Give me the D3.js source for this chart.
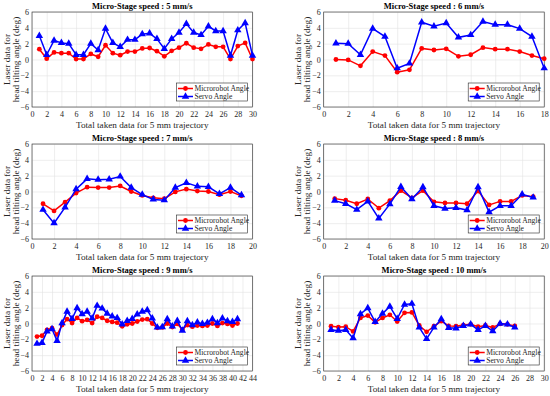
<!DOCTYPE html>
<html>
<head>
<meta charset="utf-8">
<script src="https://cdn.jsdelivr.net/npm/d3@7"></script>
<style>
  body { margin: 0; background: #fff; }
  svg { display: block; }
  svg text { font-family: "Liberation Serif", "Times New Roman", serif; }
  .grid line { stroke: #e3e3e3; stroke-width: 0.6; }
  .grid path { display: none; }
  .grid text { fill: #262626; font-size: 8px; }
</style>
</head>
<body>
<script>
"use strict";

const titles = ["Micro-Stage speed : 5 mm/s", "Micro-Stage speed : 6 mm/s",
    "Micro-Stage speed : 7 mm/s", "Micro-Stage speed : 8 mm/s",
    "Micro-Stage speed : 9 mm/s", "Micro-Stage speed : 10 mm/s"]
const xMaxes = [30, 18, 20, 20, 44, 30]
const yTicks = [-6, -4, -2, 0, 2, 4, 6]
const legendNames = ["Microrobot Angle", "Servo Angle"]

const micro5 = [1.3, 0.1, 0.9, 0.8, 0.8, 0.05, 0.05, 0.7, 0.35, 1.8, 0.8, 0.55, 1.0, 1.0, 1.4,
    1.45, 1.05, 0.4, 1.1, 1.5, 2.05, 1.5, 1.35, 1.9, 1.6, 1.6, 0.05, 1.7, 2.1, 0.05]
const servo5 = [3.0, 0.6, 2.4, 2.1, 2.0, 0.6, 0.6, 2.0, 1.2, 3.9, 2.1, 1.6, 2.5, 2.5, 3.2,
    3.3, 2.6, 1.35, 2.6, 3.4, 4.5, 3.4, 3.1, 4.2, 3.6, 3.6, 0.5, 3.7, 4.6, 0.5]

const micro6 = [0.0, -0.05, -0.8, 1.0, 0.5, -1.6, -1.3, 1.4, 1.2, 1.35, 0.4, 0.6, 1.5, 1.3,
    1.3, 1.0, 0.5, 0.1]
const servo6 = [2.05, 2.0, 0.6, 3.9, 2.9, -1.1, -0.5, 4.7, 4.2, 4.6, 2.8, 3.1, 4.8, 4.4,
    4.4, 3.9, 2.9, -1.1]

const micro7 = [-1.55, -2.45, -1.35, -0.2, 0.55, 0.5, 0.5, 0.7, 0.0, -0.5, -0.8, -0.9, -0.05,
    0.3, 0.05, 0.0, -0.4, 0.0, -0.55]
const servo7 = [-2.3, -4.0, -2.0, 0.3, 1.6, 1.5, 1.55, 1.9, 0.5, -0.4, -1.0, -1.1, 0.5,
    1.1, 0.65, 0.6, -0.3, 0.5, -0.45]

const micro8 = [-0.9, -1.1, -1.55, -0.95, -2.1, -1.15, 0.1, -0.8, 0.1, -1.3, -1.45, -1.45,
    -1.55, 0.05, -1.7, -1.25, -1.25, -0.5, -0.65]
const servo8 = [-1.15, -1.55, -2.3, -1.25, -3.4, -1.6, 0.6, -0.95, 0.55, -1.8, -2.15, -2.05,
    -2.35, 0.55, -2.6, -1.8, -1.8, -0.35, -0.75]

const micro9 = [-1.65, -1.55, -0.8, -0.6, -1.4, -0.2, 0.55, 0.05, 0.7, 0.3, 0.45, 0.05, 0.85,
    0.7, 0.35, 0.2, 0.1, -0.35, -0.1, 0.0, 0.25, 0.5, 0.55, 0.0, -0.55, -0.5, 0.0, -0.45,
    -0.05, -0.75, -0.2, -0.4, -0.25, -0.3, -0.25, 0.0, -0.3, 0.05, -0.05, -0.25, 0.0]
const servo9 = [-2.55, -2.45, -1.0, -0.7, -2.2, 0.05, 1.5, 0.6, 1.95, 1.2, 1.5, 0.65, 2.25,
    1.9, 1.25, 0.9, 0.7, -0.1, 0.35, 0.6, 1.15, 1.5, 1.7, 0.65, -0.5, -0.45, 0.55, -0.35,
    0.35, -0.9, 0.3, -0.2, 0.15, -0.05, 0.1, 0.55, 0.05, 0.65, 0.3, 0.2, 0.55]

const micro10 = [-0.35, -0.45, -0.4, -1.0, 0.7, 1.0, 0.15, 0.7, 1.1, 0.25, 1.35, 1.4, -0.25,
    -1.05, -0.35, 0.3, -0.3, -0.35, -0.2, -0.1, -0.4, -0.25, -0.5, -0.05, -0.1, -0.3]
const servo10 = [-0.8, -0.9, -0.8, -1.85, 1.2, 1.95, 0.2, 1.25, 2.15, 0.6, 2.4, 2.5, -0.5,
    -1.95, -0.5, 0.55, -0.55, -0.6, -0.3, -0.1, -0.8, -0.3, -0.95, 0.0, -0.1, -0.5]

const microSets = [micro5, micro6, micro7, micro8, micro9, micro10]
const servoSets = [servo5, servo6, servo7, servo8, servo9, servo10]

const layout = {
    width: 550,
    height: 396,
    colLeft: [32, 323.7],
    plotW: 220.5,
    rowTop: [12, 144, 276],
    plotH: 95
}

const svg = d3.select("body").append("svg")
    .attr("width", layout.width)
    .attr("height", layout.height)

const triangle = d3.symbol().type(d3.symbolTriangle).size(24)

titles.forEach((title, i) => {
    const left = layout.colLeft[i % 2]
    const top = layout.rowTop[Math.floor(i / 2)]
    drawPanel(i, left, top)
})

function drawPanel(i, left, top) {
    const w = layout.plotW, h = layout.plotH
    const g = svg.append("g").attr("transform", `translate(${left},${top})`)

    const x = d3.scaleLinear().domain([0, xMaxes[i]]).range([0, w])
    const y = d3.scaleLinear().domain([-6, 6]).range([h, 0])

    g.append("rect").attr("width", w).attr("height", h).attr("fill", "#fff")

    // grid + tick labels
    g.append("g").attr("class", "grid")
        .attr("transform", `translate(0,${h})`)
        .call(d3.axisBottom(x).tickValues(d3.range(0, xMaxes[i] + 1, 2)).tickSize(-h).tickPadding(4))
        .attr("font-family", null).attr("font-size", null)
    g.append("g").attr("class", "grid")
        .call(d3.axisLeft(y).tickValues(yTicks).tickSize(-w).tickPadding(3))
        .attr("font-family", null).attr("font-size", null)

    g.append("rect").attr("width", w).attr("height", h)
        .attr("fill", "none").attr("stroke", "#262626").attr("stroke-width", 0.6)

    const line = d3.line().x((d, k) => x(k + 1)).y(d => y(d))

    const micro = microSets[i], servo = servoSets[i]

    g.append("path").datum(micro).attr("d", line)
        .attr("fill", "none").attr("stroke", "#ff0000").attr("stroke-width", 1.5)
    g.selectAll(".dot").data(micro).enter().append("circle")
        .attr("cx", (d, k) => x(k + 1)).attr("cy", d => y(d))
        .attr("r", 2.4).attr("fill", "#ff0000")

    g.append("path").datum(servo).attr("d", line)
        .attr("fill", "none").attr("stroke", "#0000ff").attr("stroke-width", 1.5)
    g.selectAll(".tri").data(servo).enter().append("path")
        .attr("d", triangle)
        .attr("transform", (d, k) => `translate(${x(k + 1)},${y(d)})`)
        .attr("fill", "#0000ff")

    // title
    g.append("text").attr("x", w / 2).attr("y", -3)
        .attr("text-anchor", "middle").attr("font-weight", "bold")
        .attr("font-size", "8.5px").attr("fill", "#000").text(titles[i])

    // axis labels
    g.append("text").attr("x", w / 2).attr("y", h + 21)
        .attr("text-anchor", "middle").attr("font-size", "9.2px").attr("fill", "#262626")
        .text("Total taken data for 5 mm trajectory")
    const yl = g.append("text").attr("transform", `translate(-21,${h / 2}) rotate(-90)`)
        .attr("text-anchor", "middle").attr("font-size", "9.2px").attr("fill", "#262626")
    yl.append("tspan").attr("x", 0).attr("dy", "-1.5").text("Laser data for")
    yl.append("tspan").attr("x", 0).attr("dy", "9").text("head tilting angle (deg)")

    // legend
    const lw = 71, lh = 18
    const lg = g.append("g").attr("transform", `translate(${w - lw - 5},${h - lh - 6})`)
    lg.append("rect").attr("width", lw).attr("height", lh)
        .attr("fill", "#fff").attr("stroke", "#262626").attr("stroke-width", 0.6)
    const colors = ["#ff0000", "#0000ff"]
    legendNames.forEach((name, k) => {
        const cy = 5.5 + k * 8
        lg.append("line").attr("x1", 1.5).attr("x2", 16.5).attr("y1", cy).attr("y2", cy)
            .attr("stroke", colors[k]).attr("stroke-width", 1.5)
        if (k === 0) {
            lg.append("circle").attr("cx", 9).attr("cy", cy).attr("r", 2.4).attr("fill", colors[k])
        } else {
            lg.append("path").attr("d", triangle)
                .attr("transform", `translate(9,${cy})`).attr("fill", colors[k])
        }
        lg.append("text").attr("x", 18).attr("y", cy + 2.6)
            .attr("font-size", "7.6px").attr("fill", "#262626").text(name)
    })
}
</script>
</body>
</html>
